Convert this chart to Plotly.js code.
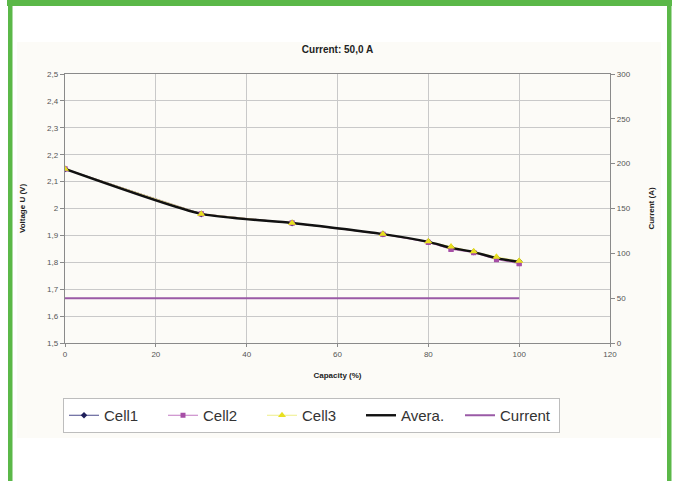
<!DOCTYPE html>
<html>
<head>
<meta charset="utf-8">
<script src="https://cdn.plot.ly/plotly-3.0.1.min.js"></script>
<style>
html,body{margin:0;padding:0;background:#fff;}
#chart{width:675px;height:481px;}
</style>
</head>
<body>
<div id="chart"></div>
<script>
// ---- data ----
const capacity = [0, 30, 50, 70, 80, 85, 90, 95, 100];
const cell1 = [2.147, 1.980, 1.946, 1.905, 1.876, 1.855, 1.838, 1.817, 1.803];
const cell2 = [2.147, 1.980, 1.946, 1.904, 1.874, 1.848, 1.836, 1.810, 1.795];
const cell3 = [2.147, 1.980, 1.946, 1.905, 1.877, 1.858, 1.840, 1.820, 1.805];
const average = capacity.map((_, i) => (cell1[i] + cell2[i] + cell3[i]) / 3);
const currentX = [0, 100];
const currentY = [50, 50];
const voltTicks = [1.5,1.6,1.7,1.8,1.9,2,2.1,2.2,2.3,2.4,2.5];
const voltTickText = ["1,5","1,6","1,7","1,8","1,9","2","2,1","2,2","2,3","2,4","2,5"];

// ---- layout helpers ----
const W = 675, H = 481;
const M = {l: 65, r: 65, t: 74, b: 138};
const pw = W - M.l - M.r, ph = H - M.t - M.b;
const px = x => (x - M.l) / pw;
const py = y => (H - M.b - y) / ph;
const green = '#5bb848';
const font = 'Liberation Sans, Arial, sans-serif';

const cellStyles = [
  {name: 'Cell1', y: cell1, line: '#4a4a8a', sym: 'diamond', size: 5, col: '#1f1f5a'},
  {name: 'Cell2', y: cell2, line: '#c27ac2', sym: 'square', size: 5, col: '#a64ea6'},
  {name: 'Cell3', y: cell3, line: '#eeee88', sym: 'triangle-up', size: 7, col: '#e8e020'}
];

const traces = [];
traces.push({x: currentX, y: currentY, name: 'Current', mode: 'lines', yaxis: 'y2', legendrank: 5,
  line: {color: '#9a5aa6', width: 2}});
cellStyles.forEach((c, i) => traces.push({
  x: capacity, y: c.y, name: c.name, mode: 'lines+markers', legendrank: i + 1,
  line: {color: c.line, width: 1}, marker: {symbol: c.sym, size: c.size, color: c.col}}));
traces.push({x: capacity, y: average, name: 'Avera.', mode: 'lines', legendrank: 4,
  line: {color: '#111111', width: 2.4, shape: 'spline', smoothing: 0.6}});
// markers drawn again on top of the average line
cellStyles.forEach(c => traces.push({
  x: capacity, y: c.y, name: c.name, mode: 'markers', showlegend: false,
  marker: {symbol: c.sym, size: c.size, color: c.col}}));

const layout = {
  width: W, height: H,
  margin: M,
  paper_bgcolor: '#ffffff',
  plot_bgcolor: '#ffffff',
  font: {family: font, color: '#333'},
  title: {text: '<b>Current: 50,0 A</b>', font: {size: 10, color: '#222'},
          x: 0.5, xanchor: 'center', y: 1 - 49 / H, yanchor: 'middle'},
  xaxis: {
    range: [0, 120], dtick: 20, tick0: 0,
    showgrid: true, gridcolor: '#c9c9c9', gridwidth: 1,
    zeroline: false, showline: true, linecolor: '#8a8a8a', linewidth: 1.2, mirror: true,
    ticks: 'outside', ticklen: 3, tickcolor: '#8a8a8a',
    tickfont: {size: 8, color: '#555'},
    title: {text: '<b>Capacity (%)</b>', font: {size: 8, color: '#222'}, standoff: 14}
  },
  yaxis: {
    range: [1.5, 2.5], tickvals: voltTicks, ticktext: voltTickText,
    showgrid: true, gridcolor: '#c9c9c9', gridwidth: 1,
    zeroline: false, showline: true, linecolor: '#8a8a8a', linewidth: 1.2,
    ticks: 'outside', ticklen: 4, tickcolor: '#8a8a8a',
    tickfont: {size: 8, color: '#555'},
    title: {text: '<b>Voltage U (V)</b>', font: {size: 8, color: '#222'}, standoff: 20}
  },
  yaxis2: {
    overlaying: 'y', side: 'right', range: [0, 300], dtick: 50,
    showgrid: false, zeroline: false, showline: true, linecolor: '#8a8a8a', linewidth: 1.2,
    ticks: 'outside', ticklen: 4, tickcolor: '#8a8a8a',
    tickfont: {size: 8, color: '#555'},
    title: {text: '<b>Current (A)</b>', font: {size: 8, color: '#222'}, standoff: 18}
  },
  showlegend: true,
  legend: {
    orientation: 'h', x: px(63), xanchor: 'left', y: py(398), yanchor: 'top',
    bgcolor: '#ffffff', bordercolor: '#bdbdbd', borderwidth: 1,
    font: {size: 15, color: '#333', family: font},
    itemwidth: 30, traceorder: 'normal',
    entrywidth: 54, entrywidthmode: 'pixels'
  },
  shapes: [
    {type: 'rect', xref: 'paper', yref: 'paper', layer: 'below',
     x0: px(17), x1: px(661), y0: py(438), y1: py(42),
     fillcolor: '#fcfbf7', line: {width: 0}},
    {type: 'rect', xref: 'paper', yref: 'paper', layer: 'above',
     x0: px(7), x1: px(672), y0: py(0), y1: py(6),
     fillcolor: green, line: {width: 0}},
    {type: 'rect', xref: 'paper', yref: 'paper', layer: 'above',
     x0: px(8), x1: px(12.5), y0: py(481), y1: py(0),
     fillcolor: green, line: {width: 0}},
    {type: 'rect', xref: 'paper', yref: 'paper', layer: 'above',
     x0: px(667), x1: px(671.5), y0: py(481), y1: py(0),
     fillcolor: green, line: {width: 0}}
  ]
};

Plotly.newPlot('chart', traces, layout, {displayModeBar: false, staticPlot: true});
</script>
</body>
</html>
